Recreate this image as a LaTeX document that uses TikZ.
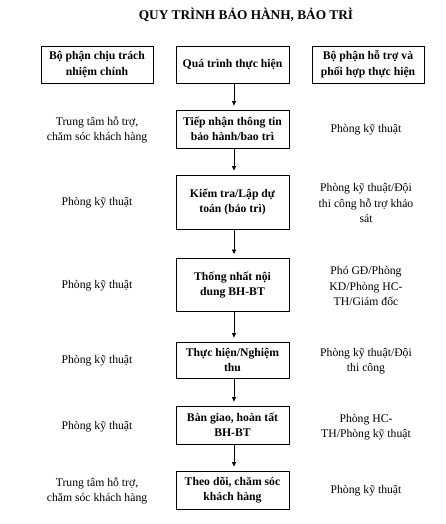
\documentclass[tikz,border=0pt]{standalone}
\usepackage{fontspec}
\setmainfont{Liberation Serif}
\usetikzlibrary{arrows.meta}
\begin{document}
\begin{tikzpicture}[x=1pt,y=-1pt,
  txt/.style={font=\fontsize{11.7}{15.5}\selectfont, align=center, inner sep=0pt},
  stepbox/.style={draw, line width=0.9pt, txt, font=\fontsize{11.7}{15.5}\selectfont\bfseries, minimum width=113pt},
  hdr/.style={stepbox, minimum width=112pt, minimum height=37pt},
  arr/.style={line width=0.6pt, -{Triangle[length=4.5pt,width=4pt]}}
]
\useasboundingbox (0,0) rectangle (446,524);
\node[font=\fontsize{13.3}{15}\selectfont\bfseries, inner sep=0pt] (title) at (246,15) {QUY TRÌNH BẢO HÀNH, BẢO TRÌ};
% headers
\node[hdr] (h1) at (97,64.5) {Bộ phận chịu trách\\nhiệm chính};
\node[hdr, minimum width=113pt] (h2) at (232.5,64.5) {Quá trình thực hiện};
\node[hdr] (h3) at (368,64.5) {Bộ phận hỗ trợ và\\phối hợp thực hiện};
% process boxes
\node[stepbox, minimum height=38pt] (b1) at (232.5,129) {Tiếp nhận thông tin\\bảo hành/bao trì};
\node[stepbox, minimum height=54pt] (b2) at (232.5,202) {Kiểm tra/Lập dự\\toán (bảo trì)};
\node[stepbox, minimum height=53pt] (b3) at (232.5,285) {Thống nhất nội\\dung BH-BT};
\node[stepbox, minimum height=36pt] (b4) at (232.5,360) {Thực hiện/Nghiệm\\thu};
\node[stepbox, minimum height=38pt] (b5) at (232.5,425) {Bàn giao, hoàn tất\\BH-BT};
\node[stepbox, minimum height=38pt] (b6) at (232.5,490) {Theo dõi, chăm sóc\\khách hàng};
% left column
\node[txt] (l1) at (97,130) {Trung tâm hỗ trợ,\\chăm sóc khách hàng};
\node[txt] (l2) at (97,203) {Phòng kỹ thuật};
\node[txt] (l3) at (97,286) {Phòng kỹ thuật};
\node[txt] (l4) at (97,361) {Phòng kỹ thuật};
\node[txt] (l5) at (97,427) {Phòng kỹ thuật};
\node[txt] (l6) at (97,491) {Trung tâm hỗ trợ,\\chăm sóc khách hàng};
% right column
\node[txt] (r1) at (366,130) {Phòng kỹ thuật};
\node[txt] (r2) at (366,203) {Phòng kỹ thuật/Đội\\thi công hỗ trợ khảo\\sát};
\node[txt] (r3) at (366,286) {Phó GĐ/Phòng\\KD/Phòng HC-\\TH/Giám đốc};
\node[txt] (r4) at (366,361) {Phòng kỹ thuật/Đội\\thi công};
\node[txt] (r5) at (366,427) {Phòng HC-\\TH/Phòng kỹ thuật};
\node[txt] (r6) at (366,491) {Phòng kỹ thuật};
% arrows
\coordinate (ax) at (234,0);
\draw[arr] (h2.south -| ax) -- ([yshift=4pt]b1.north -| ax);
\draw[arr] (b1.south -| ax) -- ([yshift=4pt]b2.north -| ax);
\draw[arr] (b2.south -| ax) -- ([yshift=4pt]b3.north -| ax);
\draw[arr] (b3.south -| ax) -- ([yshift=4pt]b4.north -| ax);
\draw[arr] (b4.south -| ax) -- ([yshift=4pt]b5.north -| ax);
\draw[arr] (b5.south -| ax) -- ([yshift=4pt]b6.north -| ax);
\end{tikzpicture}
\end{document}
